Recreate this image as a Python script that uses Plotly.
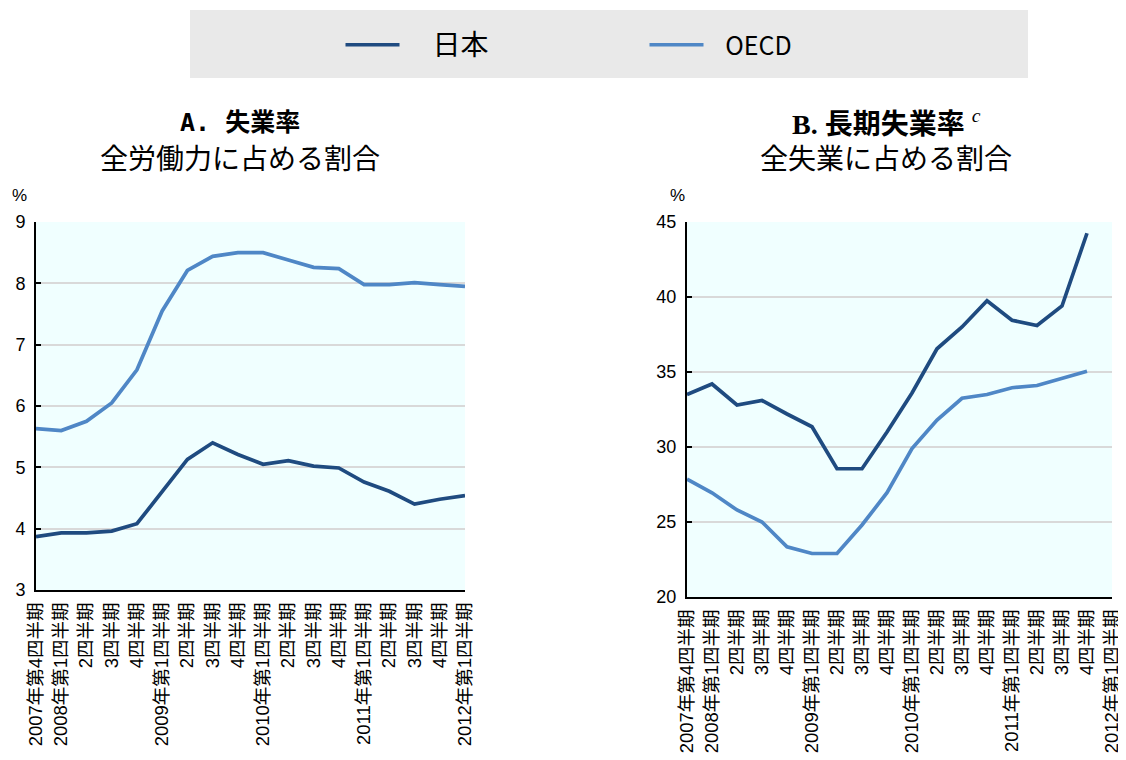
import plotly.graph_objects as go

# ---------------- data ----------------
categories = ["2007年第4四半期", "2008年第1四半期", "2四半期", "3四半期", "4四半期",
              "2009年第1四半期", "2四半期", "3四半期", "4四半期",
              "2010年第1四半期", "2四半期", "3四半期", "4四半期",
              "2011年第1四半期", "2四半期", "3四半期", "4四半期",
              "2012年第1四半期"]

japan_unemp = [3.87, 3.93, 3.93, 3.96, 4.08, 4.60, 5.13, 5.40, 5.21, 5.05,
               5.11, 5.02, 4.99, 4.76, 4.61, 4.40, 4.48, 4.54]
oecd_unemp = [5.63, 5.60, 5.75, 6.05, 6.59, 7.55, 8.21, 8.44, 8.50, 8.50,
              8.38, 8.26, 8.24, 7.98, 7.98, 8.01, 7.98, 7.95]

japan_ltu = [33.5, 34.2, 32.8, 33.1, 32.2, 31.35, 28.55, 28.55, 31.0, 33.6,
             36.55, 38.0, 39.75, 38.45, 38.1, 39.4, 44.25]
oecd_ltu = [27.85, 26.95, 25.8, 25.0, 23.35, 22.9, 22.9, 24.8, 26.95, 29.9,
            31.8, 33.25, 33.5, 33.95, 34.1, 34.55, 35.05]

grid_quarters = [4, 8, 12, 16]

series_names = ["日本", "OECD"]
series_colors = ["#1f4b80", "#4f87c6"]

# ---------------- figure ----------------
OFF = 8                     # page body margin of the html output
W, H = 1126 - OFF, 760 - OFF
px = lambda v: (v - OFF) / W
py = lambda v: 1 - (v - OFF) / H

xs = list(range(len(categories)))
NB = "\u00a0"
legend_labels = [NB * 5 + "<span style='font-size:28px'>日本</span>", NB * 3 + "OECD"]

fig = go.Figure()
for name, label, color, ya, yb in zip(series_names, legend_labels, series_colors,
                                      [japan_unemp, oecd_unemp], [japan_ltu, oecd_ltu]):
    fig.add_trace(go.Scatter(x=xs[:len(ya)], y=ya, mode="lines", name=label,
                             line=dict(color=color, width=3.7),
                             xaxis="x", yaxis="y", legendgroup=name, showlegend=True))
    fig.add_trace(go.Scatter(x=xs[:len(yb)], y=yb, mode="lines", name=label,
                             line=dict(color=color, width=3.7),
                             xaxis="x2", yaxis="y2", legendgroup=name, showlegend=False))

GRID = "#d9d9d9"
tick_font = dict(family="Liberation Sans, Noto Sans CJK JP", size=18.5, color="black")
ytick_font = dict(family="Liberation Sans Narrow, Arial Narrow, Liberation Sans", size=18, color="black")

def xaxis_main(domain):
    return dict(domain=domain, range=[0, len(categories) - 1], tickmode="array",
                tickvals=xs, ticktext=categories, tickangle=-90, showgrid=False,
                showline=True, linecolor="black", linewidth=2, ticks="",
                tickfont=tick_font, zeroline=False, ticklabelstandoff=3)

def xaxis_grid(over, anchor):
    return dict(overlaying=over, anchor=anchor, range=[0, len(categories) - 1],
                tickmode="array", tickvals=grid_quarters, showgrid=True,
                gridcolor=GRID, gridwidth=2, ticks="inside", ticklen=5,
                tickwidth=2, tickcolor="black", showticklabels=False,
                showline=False, zeroline=False)

def yaxis(domain, rng, dt, anchor):
    return dict(domain=domain, range=rng, dtick=dt, tick0=rng[0], anchor=anchor,
                showgrid=True, gridcolor=GRID, gridwidth=2, showline=True,
                linecolor="black", linewidth=2, ticks="inside", ticklen=5,
                tickwidth=2, tickcolor="black", tickfont=ytick_font,
                zeroline=False, ticklabelstandoff=5)

fig.update_layout(
    width=W, height=H,
    margin=dict(l=0, r=0, t=0, b=0, autoexpand=False),
    paper_bgcolor="white", plot_bgcolor="#f0ffff",
    xaxis=dict(**xaxis_main([px(36), px(465)]), anchor="y"),
    xaxis2=dict(**xaxis_main([px(687), px(1112)]), anchor="y2"),
    xaxis3=xaxis_grid("x", "y"),
    xaxis4=xaxis_grid("x2", "y2"),
    yaxis=yaxis([py(590), py(222)], [3, 9], 1, "x"),
    yaxis2=yaxis([py(597), py(222)], [20, 45], 5, "x2"),
    legend=dict(orientation="h", x=px(644.5), xanchor="center", y=py(45),
                yanchor="middle", bgcolor="rgba(0,0,0,0)",
                font=dict(family="Liberation Sans Narrow, Noto Sans CJK JP", size=25, color="black"),
                itemwidth=54, entrywidth=235),
    showlegend=True,
)

# legend box
fig.add_shape(type="rect", xref="paper", yref="paper", x0=px(190), x1=px(1028),
              y0=py(78), y1=py(10), fillcolor="#e9e9e9", line=dict(width=0), layer="below")

ann = []
ann.append(dict(text="<b>A. 失業率</b>", x=px(240), y=py(122),
                font=dict(family="DejaVu Sans Mono, Noto Sans CJK JP", size=25, color="black")))
ann.append(dict(text="全労働力に占める割合", x=px(240), y=py(157),
                font=dict(family="Noto Sans CJK JP", size=28, color="black")))
ann.append(dict(text="<b>B. 長期失業率</b> <sup><i>c</i></sup>", x=px(886), y=py(122),
                font=dict(family="Liberation Serif, Noto Sans CJK JP", size=28, color="black")))
ann.append(dict(text="全失業に占める割合", x=px(886), y=py(157),
                font=dict(family="Noto Sans CJK JP", size=28, color="black")))
ann.append(dict(text="%", x=px(20), y=py(195),
                font=dict(family="Liberation Sans Narrow, Liberation Sans", size=17, color="black")))
ann.append(dict(text="%", x=px(677), y=py(195),
                font=dict(family="Liberation Sans Narrow, Liberation Sans", size=17, color="black")))
for a in ann:
    a.update(xref="paper", yref="paper", showarrow=False, xanchor="center", yanchor="middle")
fig.update_layout(annotations=ann)

fig.write_html("out.html")
